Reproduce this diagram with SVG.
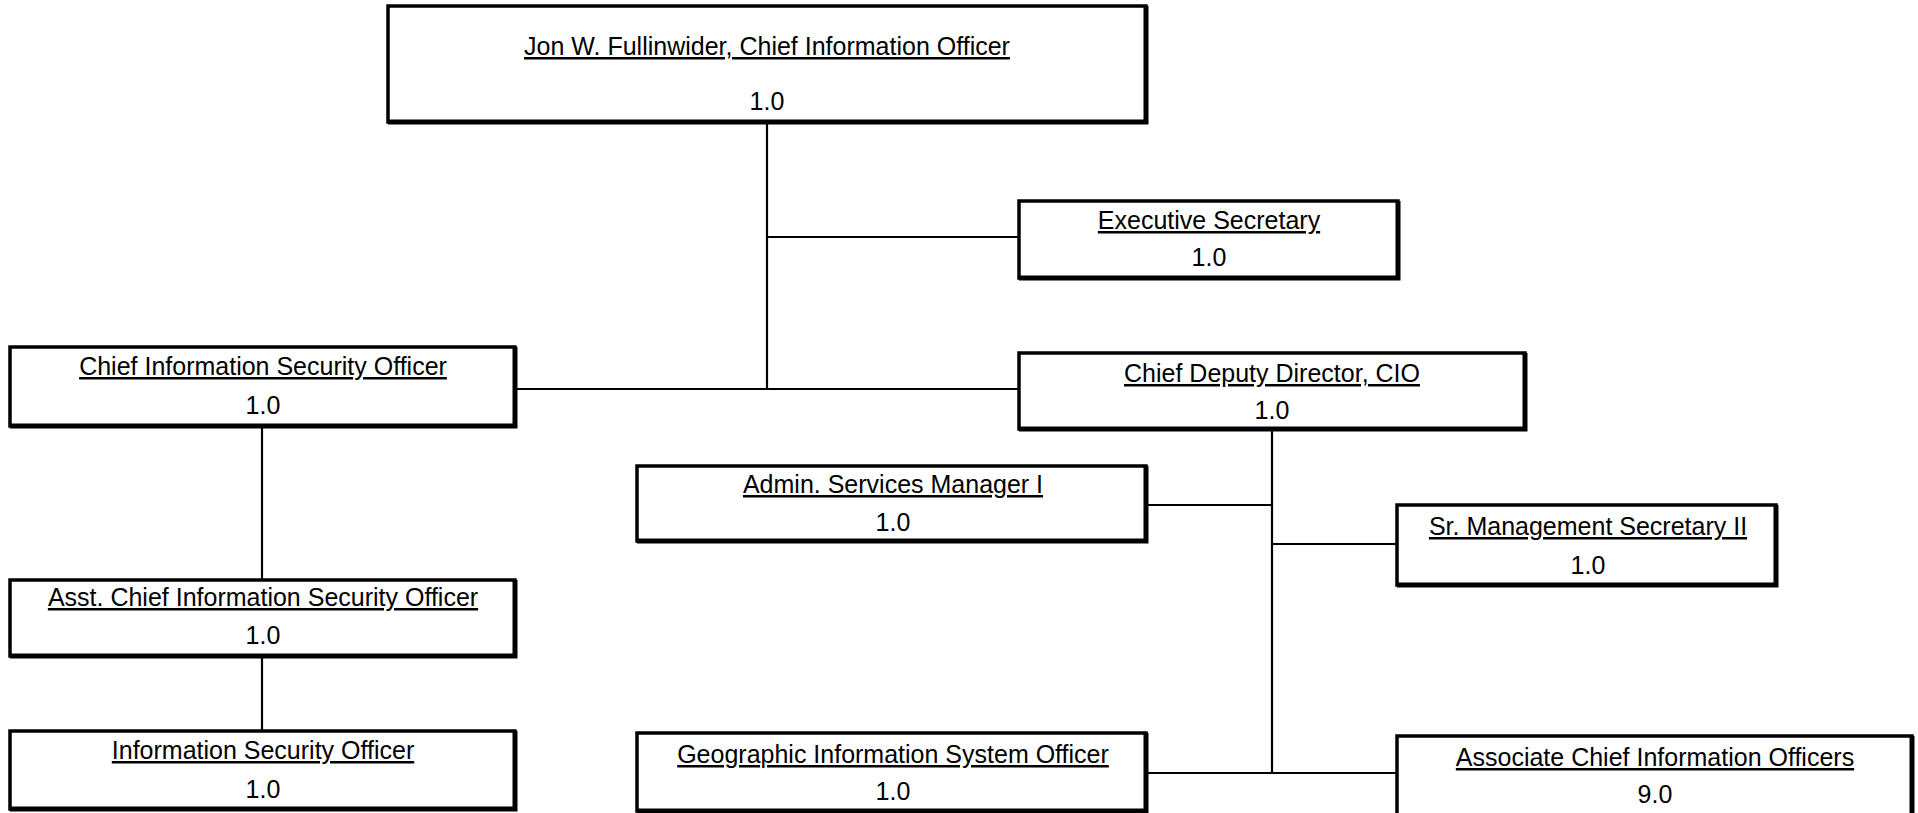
<svg xmlns="http://www.w3.org/2000/svg" width="1918" height="813" viewBox="0 0 1918 813">
  <style>
    .box { fill: #ffffff; stroke: #000000; stroke-width: 3.5; }
    .edge { fill: none; stroke: #000000; stroke-width: 5; }
    .link { fill: none; stroke: #000000; stroke-width: 2.2; }
    text { font-family: "Liberation Sans", Arial, sans-serif; font-size: 25px; fill: #000000; text-anchor: middle; }
    .title { text-decoration: underline; }
  </style>
  <rect width="1918" height="813" fill="#ffffff"/>

  <!-- reporting lines -->
  <g id="connectors">
    <path class="link" d="M767 122 V389"/>
    <path class="link" d="M767 237 H1019"/>
    <path class="link" d="M515 389 H1019"/>
    <path class="link" d="M1272 429 V773"/>
    <path class="link" d="M1146 505 H1272"/>
    <path class="link" d="M1272 544 H1397"/>
    <path class="link" d="M1146 773 H1397"/>
    <path class="link" d="M262 426 V580"/>
    <path class="link" d="M262 656 V731"/>
  </g>

  <g id="cio">
    <rect class="box" x="388" y="6" width="758" height="116"/>
    <path class="edge" d="M1146 6 V122 H388"/>
    <text class="title" x="767" y="55">Jon W. Fullinwider, Chief Information Officer</text>
    <text x="767" y="110">1.0</text>
  </g>

  <g id="exec-secretary">
    <rect class="box" x="1019" y="201" width="379" height="77"/>
    <path class="edge" d="M1398 201 V278 H1019"/>
    <text class="title" x="1209" y="229">Executive Secretary</text>
    <text x="1209" y="266">1.0</text>
  </g>

  <g id="ciso">
    <rect class="box" x="10" y="347" width="505" height="79"/>
    <path class="edge" d="M515 347 V426 H10"/>
    <text class="title" x="263" y="375">Chief Information Security Officer</text>
    <text x="263" y="414">1.0</text>
  </g>

  <g id="chief-deputy">
    <rect class="box" x="1019" y="353" width="506" height="76"/>
    <path class="edge" d="M1525 353 V429 H1019"/>
    <text class="title" x="1272" y="382">Chief Deputy Director, CIO</text>
    <text x="1272" y="419">1.0</text>
  </g>

  <g id="admin-services">
    <rect class="box" x="637" y="466" width="509" height="75"/>
    <path class="edge" d="M1146 466 V541 H637"/>
    <text class="title" x="893" y="493">Admin. Services Manager I</text>
    <text x="893" y="531">1.0</text>
  </g>

  <g id="mgmt-secretary">
    <rect class="box" x="1397" y="505" width="379" height="80"/>
    <path class="edge" d="M1776 505 V585 H1397"/>
    <text class="title" x="1588" y="535">Sr. Management Secretary II</text>
    <text x="1588" y="574">1.0</text>
  </g>

  <g id="asst-ciso">
    <rect class="box" x="10" y="580" width="505" height="76"/>
    <path class="edge" d="M515 580 V656 H10"/>
    <text class="title" x="263" y="606">Asst. Chief Information Security Officer</text>
    <text x="263" y="644">1.0</text>
  </g>

  <g id="iso">
    <rect class="box" x="10" y="731" width="505" height="78"/>
    <path class="edge" d="M515 731 V809 H10"/>
    <text class="title" x="263" y="759">Information Security Officer</text>
    <text x="263" y="798">1.0</text>
  </g>

  <g id="gis-officer">
    <rect class="box" x="637" y="733" width="509" height="78"/>
    <path class="edge" d="M1146 733 V811 H637"/>
    <text class="title" x="893" y="763">Geographic Information System Officer</text>
    <text x="893" y="800">1.0</text>
  </g>

  <g id="associate-cios">
    <rect class="box" x="1397" y="736" width="515" height="80"/>
    <path class="edge" d="M1912 736 V816"/>
    <text class="title" x="1655" y="766">Associate Chief Information Officers</text>
    <text x="1655" y="803">9.0</text>
  </g>
</svg>
